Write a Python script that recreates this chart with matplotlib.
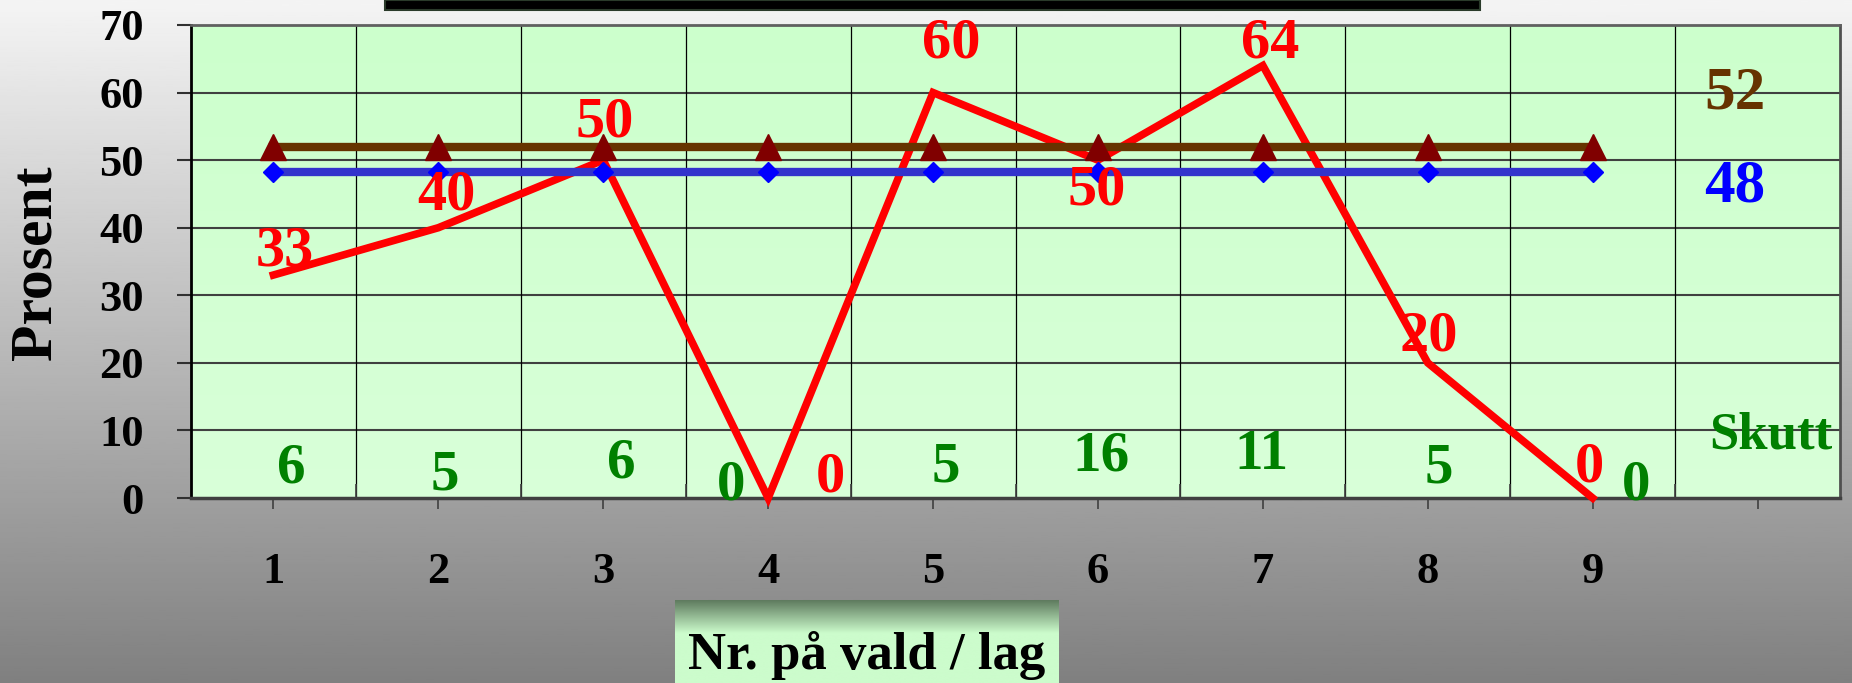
import numpy as np
import matplotlib
matplotlib.use("Agg")
import matplotlib.pyplot as plt
from matplotlib.patches import Rectangle

plt.rcParams['font.family'] = ['Liberation Serif', 'DejaVu Serif']
plt.rcParams['font.weight'] = 'bold'

# data
lag = [1, 2, 3, 4, 5, 6, 7, 8, 9]
prosent = [33, 40, 50, 0, 60, 50, 64, 20, 0]
skutt = [6, 5, 6, 0, 5, 16, 11, 5, 0]
snitt_brun = 52
snitt_blaa = 48.3
xtick_pos = [1, 2, 3, 4, 5, 6, 7, 8, 9, 10]
xtick_lbl = ['1', '2', '3', '4', '5', '6', '7', '8', '9', '']
ytick_pos = [0, 10, 20, 30, 40, 50, 60, 70]

# label offsets (points) - layout only
red_off = [(8, 17), (6, 23), (1, 27), (45, 15), (13, 35), (-1, -22), (5, 16), (1, 19), (-2, 22)]
green_off = [(13, 21), (5, 16), (13, 25), (-27, 9), (9, 22), (2, 30), (-1, 31), (8, 21), (31, 9)]

W, H = 1852, 683
fig = plt.figure(figsize=(W / 100, H / 100), dpi=100)

# grey gradient background
bg = fig.add_axes([0, 0, 1, 1], zorder=-10)
grad = np.linspace(244, 128, 256).reshape(-1, 1)
bg.imshow(grad, cmap='gray', vmin=0, vmax=255, aspect='auto', extent=[0, 1, 0, 1])
bg.axis('off')

# black bar at the top (cut off title box)
fig.patches.append(Rectangle((385 / W, 1 - 10 / H), 1095 / W, 10 / H, transform=fig.transFigure,
                             facecolor='black', edgecolor='#2a3a2a', lw=1.5))

ax = fig.add_axes([191 / W, 1 - 498 / H, 1649 / W, 473 / H])
green = np.linspace(0, 1, 256).reshape(-1, 1)
rgb = np.zeros((256, 1, 3))
rgb[:, 0, 0] = 0.80 + 0.05 * green[:, 0]
rgb[:, 0, 1] = 1.0
rgb[:, 0, 2] = 0.80 + 0.05 * green[:, 0]
ax.imshow(rgb, aspect='auto', extent=[0, 1, 0, 1], transform=ax.transAxes, zorder=0)

ax.set_xlim(0.5, 10.5)
ax.set_ylim(0, 70)

# grid
for y in ytick_pos[1:-1]:
    ax.axhline(y, color='#404040', lw=1.5, zorder=1)
for x in np.arange(1.5, 10, 1):
    ax.axvline(x, color='black', lw=0.9, zorder=1)

ax.plot(lag, prosent, color='#ff0000', lw=5.5, solid_joinstyle='miter', zorder=3, clip_on=False)
ax.plot(lag, [snitt_blaa] * len(lag), color='#3333cc', lw=6, marker='D', ms=10,
        mfc='#0000ff', mec='#0000ff', zorder=4)
ax.plot(lag, [snitt_brun] * len(lag), color='#663300', lw=6, marker='^', ms=19,
        mfc='#800000', mec='#800000', zorder=5)

for x, v, off in zip(lag, prosent, red_off):
    ax.annotate(str(v), (x, v), xytext=off, textcoords='offset points', ha='center', va='center',
                color='#ff0000', fontsize=42, fontweight='bold', zorder=6)
for x, v, off in zip(lag, skutt, green_off):
    ax.annotate(str(v), (x, 0), xytext=off, textcoords='offset points', ha='center', va='center',
                color='#008000', fontsize=41, fontweight='bold', zorder=6, annotation_clip=False)
ax.text(10.08, 9.3, 'Skutt', ha='center', va='center', color='#008000', fontsize=38, fontweight='bold')
ax.annotate(f'{round(snitt_brun)}', (9.86, snitt_brun), xytext=(0, 38), textcoords='offset points',
            ha='center', va='center', color='#663300', fontsize=44, fontweight='bold')
ax.annotate(f'{round(snitt_blaa)}', (9.86, snitt_blaa), xytext=(0, -11), textcoords='offset points',
            ha='center', va='center', color='#0000ff', fontsize=44, fontweight='bold')

ax.set_yticks(ytick_pos)
ax.set_xticks(xtick_pos)
ax.set_xticklabels(xtick_lbl)
ax.set_xticks(np.arange(1.5, 10, 1), minor=True)
ax.tick_params(axis='y', direction='out', length=10, width=1.5, pad=24, labelsize=32, color='#303030')
ax.tick_params(axis='x', which='major', direction='out', length=8, width=1.2, pad=31, labelsize=32,
               color='#404040')
ax.tick_params(axis='x', which='minor', direction='in', length=10, width=1.2, color='#404040')
for lbl in ax.get_xticklabels() + ax.get_yticklabels():
    lbl.set_fontweight('bold')

ax.spines['left'].set_color('black')
ax.spines['left'].set_linewidth(2)
ax.spines['bottom'].set_color('#404040')
ax.spines['bottom'].set_linewidth(2.5)
ax.spines['top'].set_color('#606060')
ax.spines['top'].set_linewidth(2)
ax.spines['right'].set_color('#505050')
ax.spines['right'].set_linewidth(2)

fig.text(37 / W, 1 - 263 / H, 'Prosent', rotation=90, ha='center', va='center',
         fontsize=43, fontweight='bold', color='black')

# x label box with green gradient
lab = fig.add_axes([675 / W, 0, 384 / W, 83 / H])
t = np.linspace(0, 1, 256)
f = np.clip(t / 0.4, 0, 1)
box = np.zeros((256, 1, 3))
top_c = np.array([0x5e, 0x7a, 0x5e]) / 255
low_c = np.array([0xcc, 0xfc, 0xcc]) / 255
box[:, 0, :] = top_c + (low_c - top_c) * f[:, None]
lab.imshow(box, aspect='auto', extent=[0, 1, 0, 1])
lab.axis('off')
lab.text(0.5, 14 / 83, 'Nr. på vald / lag', ha='center', va='baseline', fontsize=38,
         fontweight='bold', color='black', transform=lab.transAxes)

fig.savefig('out.png', dpi=100)
